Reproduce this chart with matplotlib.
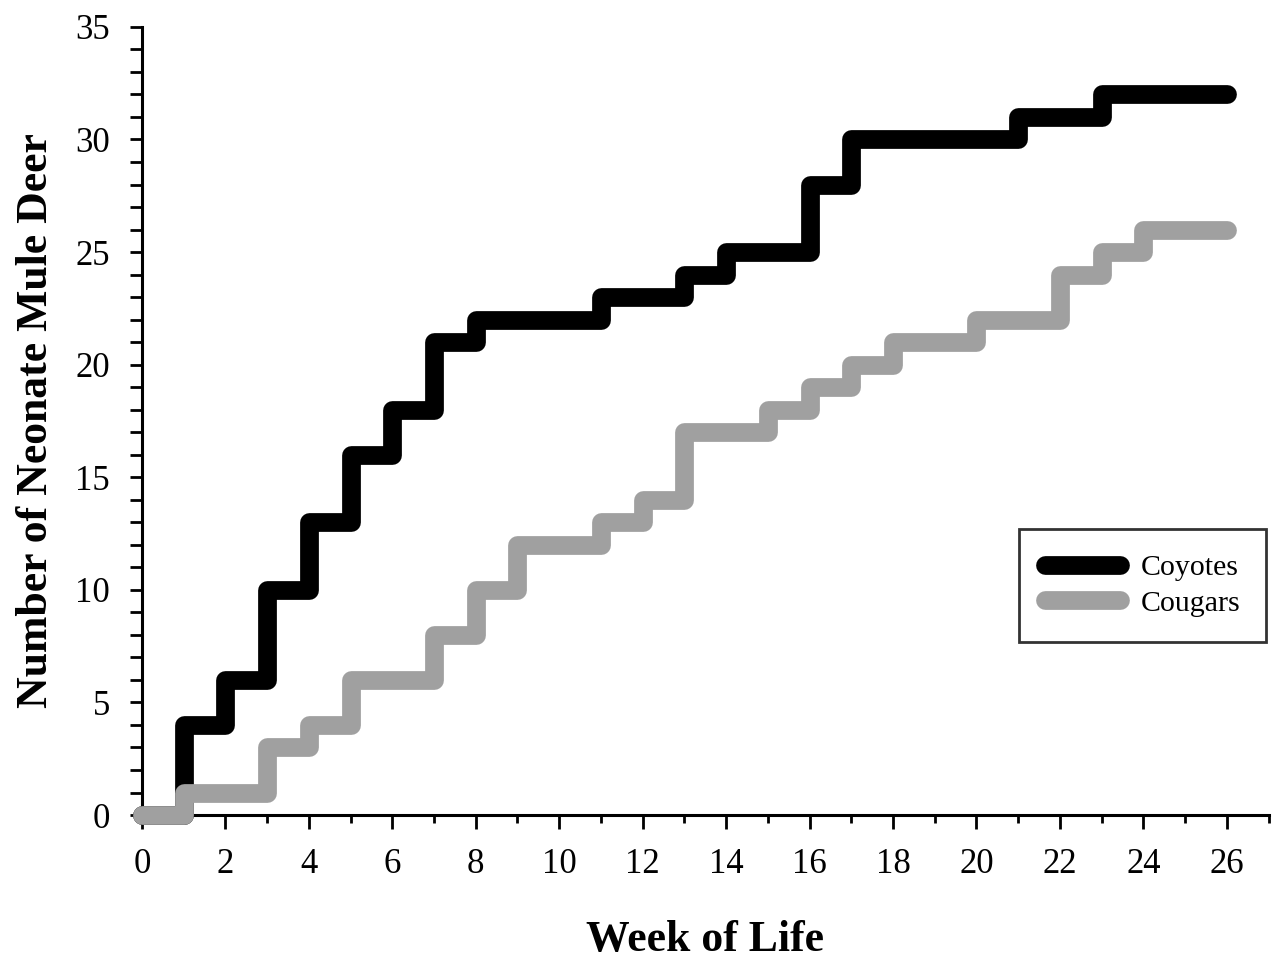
import numpy as np
import matplotlib.pyplot as plt
from matplotlib.ticker import MultipleLocator

# 数据: 每周累计死亡数 (step 在整周处变化)
coyote_weeks = [0, 1, 2, 3, 4, 5, 6, 7, 8, 11, 13, 14, 16, 17, 21, 23, 26]
coyote_counts = [0, 4, 6, 10, 13, 16, 18, 21, 22, 23, 24, 25, 28, 30, 31, 32, 32]

cougar_weeks = [0, 1, 3, 4, 5, 7, 8, 9, 11, 12, 13, 15, 16, 17, 18, 20, 22, 23, 24, 26]
cougar_counts = [0, 1, 3, 4, 6, 8, 10, 12, 13, 14, 17, 18, 19, 20, 21, 22, 24, 25, 26, 26]

plt.rcParams['font.family'] = ['Liberation Serif', 'DejaVu Serif']

fig = plt.figure(figsize=(12.73, 9.6), dpi=100)
ax = fig.add_axes([0.1115, 0.151, 0.885, 0.821])

ax.step(coyote_weeks, coyote_counts, where="post", color="black", lw=13.5,
        solid_joinstyle="round", solid_capstyle="round", clip_on=False,
        label="Coyotes", zorder=3)
ax.step(cougar_weeks, cougar_counts, where="post", color="#a0a0a0", lw=13.5,
        solid_joinstyle="round", solid_capstyle="round", clip_on=False,
        label="Cougars", zorder=4)

ax.set_xlim(0, 27)
ax.set_ylim(0, 35)
ax.xaxis.set_major_locator(MultipleLocator(2))
ax.xaxis.set_minor_locator(MultipleLocator(1))
ax.yaxis.set_major_locator(MultipleLocator(5))
ax.yaxis.set_minor_locator(MultipleLocator(1))

ax.spines["top"].set_visible(False)
ax.spines["right"].set_visible(False)
ax.spines["left"].set_linewidth(2.2)
ax.spines["bottom"].set_linewidth(2.2)

ax.tick_params(axis="x", which="major", direction="out", length=10, width=2, labelsize=25, pad=14)
ax.tick_params(axis="x", which="minor", direction="out", length=6, width=2)
ax.tick_params(axis="y", which="major", direction="out", length=9, width=2, labelsize=25, pad=14)
ax.tick_params(axis="y", which="minor", direction="out", length=9, width=2)

ax.set_xlabel("Week of Life", fontsize=31.5, fontweight="bold", labelpad=28)
ax.set_ylabel("Number of Neonate Mule Deer", fontsize=31.5, fontweight="bold", labelpad=14)

leg = ax.legend(loc="upper right", bbox_to_anchor=(1.0, 0.367), bbox_transform=ax.transAxes,
                fontsize=21.5, frameon=True, fancybox=False, edgecolor="black",
                handlelength=2.5, handletextpad=0.7, borderpad=0.85, labelspacing=0.3,
                borderaxespad=0.1)
leg.get_frame().set_linewidth(2)

plt.savefig("out.png", dpi=100)
plt.close()
